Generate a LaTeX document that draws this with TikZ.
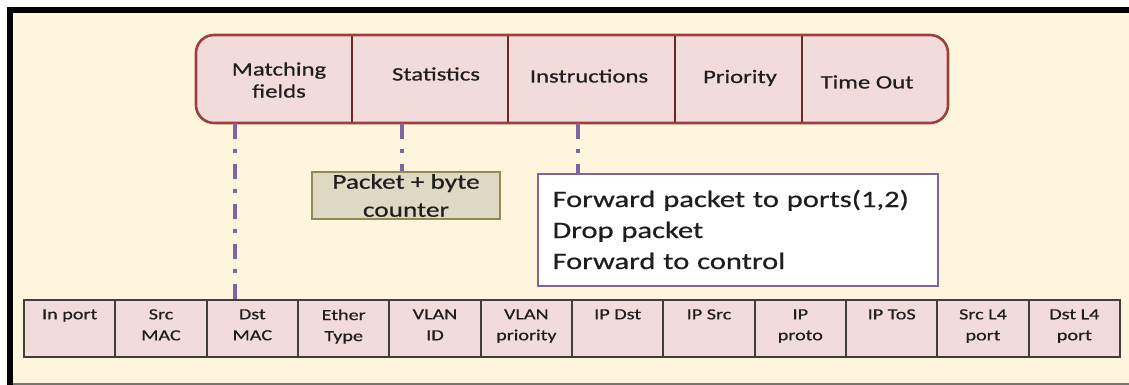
\documentclass[tikz,border=0pt]{standalone}
\usepackage{fontspec}
\setmainfont[FakeStretch=1.3,FakeBold=0.6]{Carlito}
\definecolor{paper}{HTML}{FDF5DC}
\definecolor{rosefill}{HTML}{F2DCDB}
\definecolor{roseline}{HTML}{9E3F3C}
\definecolor{rosediv}{HTML}{6E2826}
\definecolor{olivefill}{HTML}{DDD9C3}
\definecolor{oliveline}{HTML}{938953}
\definecolor{violet}{HTML}{8064A2}
\definecolor{ink}{HTML}{1E1E1E}
\definecolor{gridline}{HTML}{3F3F3F}
\tikzset{
  bartxt/.style={text=ink, align=center, inner sep=0pt, font=\fontsize{19}{22}\selectfont},
  pktbox/.style={draw=oliveline, line width=2pt, fill=olivefill, text=ink, align=center,
    minimum width=188pt, minimum height=47pt, inner sep=0pt, font=\fontsize{21}{28}\selectfont},
  actbox/.style={draw=violet, line width=2pt, fill=white, text=ink, align=left,
    text width=370pt, minimum height=112pt, inner xsep=15pt, inner ysep=0pt,
    font=\fontsize{23.5}{31}\selectfont},
  fieldcell/.style={draw=gridline, line width=1.8pt, fill=rosefill,
    minimum width=91.33pt, minimum height=57pt, inner sep=0pt},
  fieldtxt/.style={text=ink, align=center, inner sep=0pt, anchor=north,
    font=\fontsize{15.5}{21}\selectfont},
  link/.style={draw=violet, line width=4pt, dash pattern=on 15pt off 10pt on 4pt off 11pt},
}
\begin{document}
\begin{tikzpicture}[x=1pt,y=-1pt]
\useasboundingbox (0,0) rectangle (1129,385);
% page and frame
\fill[white] (0,0) rectangle (1129,385);
\fill[paper] (13,13) rectangle (1129,383);
\fill[black] (7,7) rectangle (1129,13);
\fill[black] (7,7) rectangle (13,385);
\fill[black!55] (13,383) rectangle (1129,385);

% flow entry bar
\draw[roseline, line width=2.6pt, fill=rosefill, rounded corners=18pt] (196,35) rectangle (948,123);
\foreach \x in {352,508,675,802}
  \draw[rosediv, line width=2.6pt] (\x,36.3) -- (\x,121.7);
\node[bartxt] (mf) at (279,80) {Matching\\fields};
\node[bartxt] (st) at (436,74) {Statistics};
\node[bartxt] (in) at (589,76) {Instructions};
\node[bartxt] (pr) at (740,78) {Priority};
\node[bartxt] (to) at (867,82) {Time Out};

% detail boxes
\node[pktbox] (pk) at (406,195.5) {Packet + byte\\counter};
\node[actbox] (ac) at (737.5,229.5) {Forward packet to ports(1,2)\\Drop packet\\Forward to control};

% header fields
\foreach \t [count=\i] in {In port,{Src\\MAC},{Dst\\MAC},{Ether\\Type},{VLAN\\ID},{VLAN\\priority},
    IP Dst,IP Src,{IP\\proto},IP ToS,{Src L4\\port},{Dst L4\\port}} {
  \node[fieldcell] (c\i) at ({24+91.333*(\i-0.5)},328.5) {};
  \node[fieldtxt] (t\i) at ([yshift=-10pt]c\i.north) {\t};
}

% connectors from the bar
\coordinate (l1) at (235,123.5);
\coordinate (l2) at (402,123.5);
\coordinate (l3) at (578,123.5);
\draw[link] (l1) -- (l1 |- c3.north);
\draw[link] (l2) -- (l2 |- pk.north);
\draw[link] (l3) -- (l3 |- ac.north);
\end{tikzpicture}
\end{document}
